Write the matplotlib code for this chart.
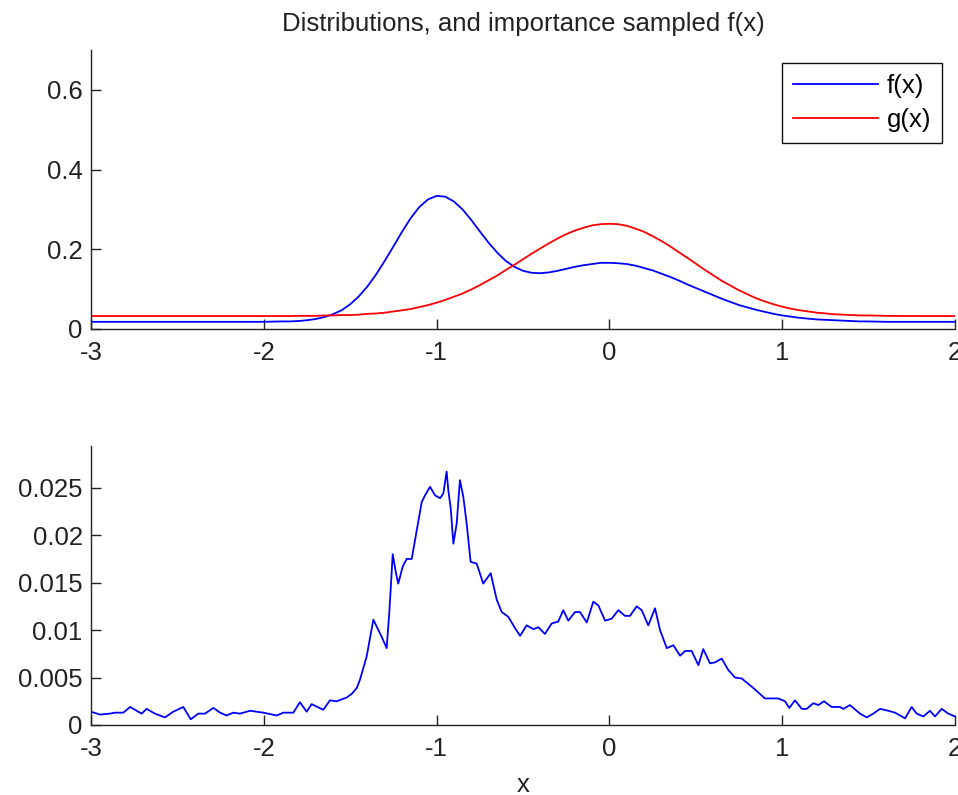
import matplotlib
matplotlib.use("Agg")
import matplotlib.pyplot as plt
from matplotlib.ticker import FormatStrFormatter

plt.rcParams['font.family'] = ['Liberation Sans', 'DejaVu Sans']

# ---- top panel: densities ----
x_dens = [-3.0, -2.5, -2.0, -1.9, -1.85, -1.8, -1.75, -1.7, -1.65, -1.6, -1.55, -1.5, -1.45,
          -1.4, -1.35, -1.3, -1.25, -1.2, -1.15, -1.1, -1.05, -1.0, -0.95, -0.9, -0.85,
          -0.8, -0.75, -0.7, -0.65, -0.6, -0.55, -0.5, -0.45, -0.4, -0.35, -0.3, -0.25,
          -0.2, -0.15, -0.1, -0.05, 0.0, 0.05, 0.1, 0.15, 0.2, 0.25, 0.3, 0.35, 0.4,
          0.45, 0.5, 0.55, 0.6, 0.65, 0.7, 0.75, 0.8, 0.85, 0.9, 0.95, 1.0, 1.05, 1.1,
          1.15, 1.2, 1.25, 1.3, 1.35, 1.4, 1.45, 1.5, 1.6, 1.8, 2.0]
f_vals = [0.018, 0.018, 0.018, 0.019, 0.019, 0.020, 0.022, 0.025, 0.030, 0.037, 0.047, 0.062, 0.082,
          0.107, 0.137, 0.171, 0.207, 0.244, 0.278, 0.306, 0.325, 0.334, 0.332, 0.320, 0.300,
          0.274, 0.245, 0.217, 0.192, 0.171, 0.156, 0.146, 0.141, 0.140, 0.142, 0.146, 0.151,
          0.156, 0.160, 0.163, 0.166, 0.166, 0.165, 0.163, 0.159, 0.153, 0.147, 0.139, 0.131, 0.122,
          0.112, 0.103, 0.094, 0.085, 0.076, 0.068, 0.060, 0.054, 0.048, 0.043, 0.038, 0.034, 0.031, 0.028,
          0.026, 0.024, 0.023, 0.022, 0.021, 0.020, 0.019, 0.019, 0.018, 0.018, 0.018]
g_vals = [0.0325, 0.0325, 0.0325, 0.0325, 0.0325, 0.033, 0.033, 0.033, 0.034, 0.034, 0.035, 0.035, 0.036,
          0.038, 0.039, 0.041, 0.044, 0.047, 0.050, 0.055, 0.060, 0.066, 0.073, 0.081, 0.089,
          0.099, 0.110, 0.122, 0.134, 0.148, 0.161, 0.175, 0.189, 0.202, 0.215, 0.227, 0.238,
          0.247, 0.254, 0.260, 0.263, 0.264, 0.263, 0.259, 0.252, 0.244, 0.233, 0.221, 0.208, 0.193,
          0.179, 0.164, 0.149, 0.135, 0.121, 0.109, 0.097, 0.087, 0.077, 0.069, 0.062, 0.056, 0.051, 0.047,
          0.044, 0.041, 0.039, 0.037, 0.036, 0.035, 0.034, 0.034, 0.033, 0.0325, 0.0325]

# ---- bottom panel: importance sampled f(x) ----
x_samp = [-3.000, -2.948, -2.890, -2.861, -2.813, -2.774, -2.736, -2.707, -2.678, -2.630,
          -2.572, -2.524, -2.466, -2.423, -2.379, -2.340, -2.292, -2.253, -2.215, -2.177,
          -2.138, -2.080, -2.003, -1.925, -1.887, -1.829, -1.791, -1.752, -1.723, -1.656,
          -1.617, -1.578, -1.520, -1.490, -1.462, -1.443, -1.405, -1.366, -1.318, -1.289,
          -1.274, -1.266, -1.254, -1.235, -1.222, -1.196, -1.173, -1.144, -1.115, -1.086,
          -1.067, -1.038, -1.009, -0.980, -0.961, -0.942, -0.932, -0.918, -0.903, -0.884,
          -0.865, -0.845, -0.826, -0.803, -0.768, -0.730, -0.687, -0.652, -0.623, -0.585,
          -0.546, -0.517, -0.479, -0.440, -0.411, -0.373, -0.334, -0.296, -0.267, -0.238,
          -0.199, -0.170, -0.131, -0.093, -0.064, -0.025, 0.013, 0.052, 0.090, 0.119,
          0.158, 0.187, 0.225, 0.264, 0.293, 0.332, 0.370, 0.409, 0.438, 0.476,
          0.515, 0.543, 0.582, 0.611, 0.650, 0.688, 0.727, 0.766, 0.833, 0.900,
          0.977, 1.016, 1.041, 1.074, 1.113, 1.142, 1.180, 1.209, 1.242, 1.286,
          1.334, 1.354, 1.392, 1.450, 1.489, 1.527, 1.566, 1.614, 1.653, 1.711,
          1.749, 1.778, 1.817, 1.855, 1.884, 1.923, 1.961, 2.000]
y_samp = [0.0014, 0.0011, 0.0012, 0.0013, 0.0013, 0.0019, 0.0015, 0.0012, 0.0017, 0.0012,
          0.0008, 0.0014, 0.0019, 0.0006, 0.0012, 0.0012, 0.0018, 0.0013, 0.0010, 0.0013,
          0.0012, 0.0015, 0.0013, 0.0010, 0.0013, 0.0013, 0.0024, 0.0014, 0.0022, 0.0016,
          0.0026, 0.0025, 0.0029, 0.0033, 0.0039, 0.0048, 0.0072, 0.0111, 0.0093, 0.0081,
          0.0118, 0.0142, 0.0180, 0.0160, 0.0149, 0.0167, 0.0175, 0.0175, 0.0205, 0.0235,
          0.0242, 0.0251, 0.0242, 0.0239, 0.0244, 0.0267, 0.0247, 0.0228, 0.0191, 0.0212,
          0.0258, 0.0240, 0.0212, 0.0172, 0.0170, 0.0149, 0.0160, 0.0132, 0.0119, 0.0114,
          0.0102, 0.0094, 0.0105, 0.0101, 0.0103, 0.0096, 0.0107, 0.0109, 0.0121, 0.0110,
          0.0119, 0.0119, 0.0108, 0.0130, 0.0126, 0.0110, 0.0112, 0.0121, 0.0115, 0.0115,
          0.0125, 0.0121, 0.0105, 0.0123, 0.0100, 0.0081, 0.0084, 0.0073, 0.0078, 0.0078,
          0.0063, 0.0080, 0.0065, 0.0066, 0.0070, 0.0058, 0.0050, 0.0049, 0.0039, 0.0028,
          0.0028, 0.0025, 0.0018, 0.0026, 0.0017, 0.0017, 0.0023, 0.0021, 0.0025, 0.0019,
          0.0019, 0.0017, 0.0021, 0.0012, 0.0008, 0.0012, 0.0017, 0.0015, 0.0013, 0.0007,
          0.0019, 0.0012, 0.0009, 0.0015, 0.0009, 0.0017, 0.0012, 0.0009]

x_ticks = [-3, -2, -1, 0, 1, 2]
top_yticks = [0, 0.2, 0.4, 0.6]
bot_yticks = [0, 0.005, 0.01, 0.015, 0.02, 0.025]

FS = 18.5
W, H = 958, 795
fig = plt.figure(figsize=(W / 100, H / 100), dpi=100)

def px_axes(x0, y0, x1, y1):
    return fig.add_axes([x0 / W, 1 - y1 / H, (x1 - x0) / W, (y1 - y0) / H])

ax1 = px_axes(91, 50, 955, 329)
ax2 = px_axes(91, 446, 955, 725)

for ax in (ax1, ax2):
    for s in ('top', 'right'):
        ax.spines[s].set_visible(False)
    for s in ('left', 'bottom'):
        ax.spines[s].set_color('#222222')
        ax.spines[s].set_linewidth(1.0)
    ax.set_xlim(-3, 2)
    ax.set_xticks(x_ticks)
    ax.tick_params(direction='in', length=7, width=1.0, color='#222222',
                   labelsize=FS, labelcolor='#222222')
    ax.tick_params(axis='x', pad=9)
    ax.tick_params(axis='y', pad=6)
    ax.xaxis.set_major_formatter(FormatStrFormatter('%g'))
    ax.yaxis.set_major_formatter(FormatStrFormatter('%g'))

ax1.plot(x_dens, f_vals, color='#0000ff', lw=1.3, label='f(x)')
ax1.plot(x_dens, g_vals, color='#ff0000', lw=1.3, label='g(x)')
ax1.set_ylim(0, 0.7)
ax1.set_yticks(top_yticks)
ax1.set_title('Distributions, and importance sampled f(x)', fontsize=FS, color='#222222', pad=14)
leg = ax1.legend(loc='upper right', fontsize=FS, frameon=True, fancybox=False,
                 edgecolor='#111111', framealpha=1, handlelength=3.3, handletextpad=0.35,
                 labelspacing=0.4, borderpad=0.42, borderaxespad=0.5)
leg.get_frame().set_linewidth(1.0)

ax2.plot(x_samp, y_samp, color='#0000ff', lw=1.3)
ax2.set_ylim(0, 0.0294)
ax2.set_yticks(bot_yticks)
ax2.set_xlabel('x', fontsize=FS, color='#222222', labelpad=8)

fig.savefig('out.png', dpi=100)
